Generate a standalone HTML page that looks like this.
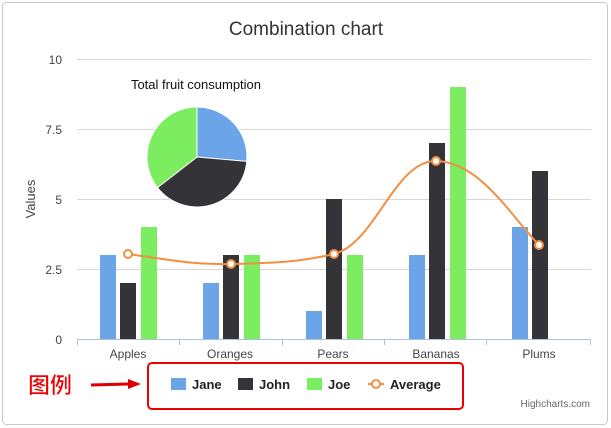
<!DOCTYPE html>
<html><head><meta charset="utf-8"><style>
body{margin:0;background:#fff;}
svg{display:block;font-family:"Liberation Sans","Noto Sans CJK SC",sans-serif;}
</style></head><body>
<svg width="611" height="428" viewBox="0 0 611 428">
<rect x="2.5" y="2.5" width="605" height="422" rx="4" fill="#fff" stroke="#c8c8c8"/>
<text x="306" y="35" font-size="19" text-anchor="middle" fill="#333">Combination chart</text>
<g stroke="#d8d8d8" stroke-width="1">
<line x1="77" y1="59.5" x2="591" y2="59.5"/>
<line x1="77" y1="129.5" x2="591" y2="129.5"/>
<line x1="77" y1="199.5" x2="591" y2="199.5"/>
<line x1="77" y1="269.5" x2="591" y2="269.5"/>
</g>
<g font-size="12" fill="#444" text-anchor="end">
<text x="62" y="64">10</text><text x="62" y="134">7.5</text><text x="62" y="204">5</text><text x="62" y="274">2.5</text><text x="62" y="344">0</text>
</g>
<text transform="translate(35,199) rotate(-90)" font-size="13" fill="#444" text-anchor="middle">Values</text>
<!-- bars -->
<g>
<rect x="100" y="255" width="16" height="84" fill="#6ba5e7"/>
<rect x="120" y="283" width="16" height="56" fill="#333338"/>
<rect x="141" y="227" width="16" height="112" fill="#7ced60"/>
<rect x="203" y="283" width="16" height="56" fill="#6ba5e7"/>
<rect x="223" y="255" width="16" height="84" fill="#333338"/>
<rect x="244" y="255" width="16" height="84" fill="#7ced60"/>
<rect x="306" y="311" width="16" height="28" fill="#6ba5e7"/>
<rect x="326" y="199" width="16" height="140" fill="#333338"/>
<rect x="347" y="255" width="16" height="84" fill="#7ced60"/>
<rect x="409" y="255" width="16" height="84" fill="#6ba5e7"/>
<rect x="429" y="143" width="16" height="196" fill="#333338"/>
<rect x="450" y="87" width="16" height="252" fill="#7ced60"/>
<rect x="512" y="227" width="16" height="112" fill="#6ba5e7"/>
<rect x="532" y="171" width="16" height="168" fill="#333338"/>
</g>
<line x1="77" y1="339.5" x2="591" y2="339.5" stroke="#aec0d8"/>
<g stroke="#aec0d8"><line x1="77.5" y1="339" x2="77.5" y2="345"/><line x1="179.5" y1="339" x2="179.5" y2="345"/><line x1="282.5" y1="339" x2="282.5" y2="345"/><line x1="384.5" y1="339" x2="384.5" y2="345"/><line x1="486.5" y1="339" x2="486.5" y2="345"/><line x1="590.5" y1="339" x2="590.5" y2="345"/></g>
<g font-size="12" fill="#444" text-anchor="middle">
<text x="128" y="358">Apples</text><text x="230" y="358">Oranges</text><text x="333" y="358">Pears</text><text x="436" y="358">Bananas</text><text x="539" y="358">Plums</text>
</g>
<!-- average spline -->
<path d="M128,254 C170,260 195,265 231,264 C275,263 300,262 334,254 C375,244 395,160 436,161 C480,162 510,215 539,245" fill="none" stroke="#f28f43" stroke-width="2"/>
<g fill="#fff" stroke="#f28f43" stroke-width="2">
<circle cx="128" cy="254" r="4"/><circle cx="231" cy="264" r="4"/><circle cx="334" cy="254" r="4"/><circle cx="436" cy="161" r="4"/><circle cx="539" cy="245" r="4"/>
</g>
<!-- pie -->
<text x="196" y="89" font-size="13" fill="#111" text-anchor="middle">Total fruit consumption</text>
<g stroke="#fff" stroke-width="1">
<path d="M197,157 L197,107 A50,50 0 0 1 246.8,161.4 Z" fill="#6ba5e7"/>
<path d="M197,157 L246.8,161.4 A50,50 0 0 1 157.5,187.6 Z" fill="#333338"/>
<path d="M197,157 L157.5,187.6 A50,50 0 0 1 197,107 Z" fill="#7ced60"/>
</g>
<!-- legend -->
<rect x="148" y="363" width="315" height="46" rx="4" fill="#fff" stroke="#e00" stroke-width="2"/>
<rect x="171" y="378" width="15" height="12" fill="#6ba5e7"/>
<text x="192" y="389" font-size="13" font-weight="bold" fill="#222">Jane</text>
<rect x="238" y="378" width="15" height="12" fill="#333338"/>
<text x="259" y="389" font-size="13" font-weight="bold" fill="#222">John</text>
<rect x="307" y="378" width="15" height="12" fill="#7ced60"/>
<text x="328" y="389" font-size="13" font-weight="bold" fill="#222">Joe</text>
<line x1="368" y1="384" x2="384" y2="384" stroke="#f28f43" stroke-width="2"/>
<circle cx="376" cy="384" r="4" fill="#fff" stroke="#f28f43" stroke-width="2"/>
<text x="390" y="389" font-size="13" font-weight="bold" fill="#222">Average</text>
<text x="590" y="407" font-size="10" fill="#666" text-anchor="end">Highcharts.com</text>
<!-- annotation -->
<text x="28" y="393" font-size="22" font-weight="bold" fill="#e00" stroke="#fff" stroke-width="0.5">图例</text>
<line x1="91" y1="385" x2="130" y2="384" stroke="#d00" stroke-width="3"/>
<polygon points="128,379 141,384 128,389" fill="#d00"/>
</svg>
</body></html>
